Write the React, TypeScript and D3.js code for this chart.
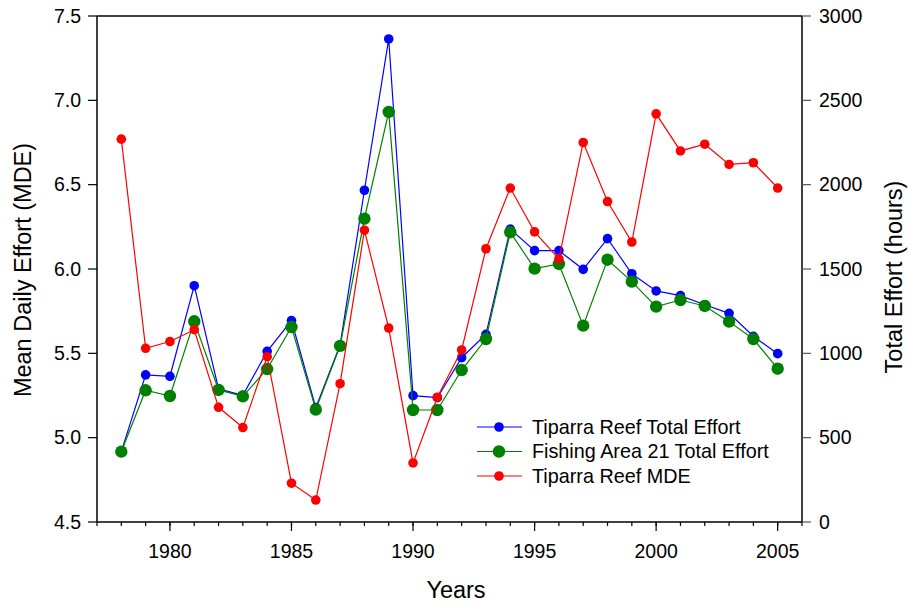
import React from 'react';
import * as d3 from 'd3';

const years = [1978, 1979, 1980, 1981, 1982, 1983, 1984, 1985, 1986, 1987, 1988, 1989, 1990, 1991, 1992, 1993, 1994, 1995, 1996, 1997, 1998, 1999, 2000, 2001, 2002, 2003, 2004, 2005];
const tiparraEffort = [417, 872, 864, 1401, 789, 751, 1012, 1194, 678, 1049, 1967, 2864, 749, 737, 974, 1113, 1737, 1609, 1609, 1498, 1680, 1472, 1370, 1342, 1288, 1237, 1101, 998];
const area21Effort = [417, 781, 747, 1190, 783, 745, 907, 1156, 666, 1044, 1798, 2431, 664, 664, 901, 1085, 1718, 1502, 1530, 1164, 1555, 1425, 1277, 1316, 1281, 1188, 1085, 909];
const tiparraMDE = [6.77, 5.53, 5.57, 5.64, 5.18, 5.06, 5.48, 4.73, 4.63, 5.32, 6.23, 5.65, 4.85, 5.24, 5.52, 6.12, 6.48, 6.22, 6.06, 6.75, 6.40, 6.16, 6.92, 6.70, 6.74, 6.62, 6.63, 6.48];
const leftTicks = [4.5, 5.0, 5.5, 6.0, 6.5, 7.0, 7.5];
const rightTicks = [0, 500, 1000, 1500, 2000, 2500, 3000];
const xMajorTicks = [1980, 1985, 1990, 1995, 2000, 2005];
const xMinorTicks = d3.range(1977, 2007);
const legendLabels = ['Tiparra Reef Total Effort', 'Fishing Area 21 Total Effort', 'Tiparra Reef MDE'];

const W = 909, H = 605;
const L = 97, R = 802, T = 16, B = 522;
const FONT = 'Arial, "Liberation Sans", sans-serif';

export default function App() {
  const x = d3.scaleLinear().domain([1977, 2006]).range([L, R]);
  const yL = d3.scaleLinear().domain([4.5, 7.5]).range([B, T]);
  const yR = d3.scaleLinear().domain([0, 3000]).range([B, T]);

  const series = [
    { vals: tiparraEffort, y: yR, color: '#0000ff', r: 4.8 },
    { vals: area21Effort, y: yR, color: '#008000', r: 6.2 },
    { vals: tiparraMDE, y: yL, color: '#ff0000', r: 4.8 },
  ];

  const lineGen = (ys: d3.ScaleLinear<number, number>, vals: number[]) =>
    d3.line<number>().x((_, i) => x(years[i])).y((v) => ys(v))(vals) || '';

  return (
    <svg width={W} height={H} style={{ position: 'absolute', left: 0, top: 0, background: '#fff' }} fontFamily={FONT}>
      <rect x={0} y={0} width={W} height={H} fill="#fff" />
      {series.map((s, si) => (
        <g key={si}>
          <path d={lineGen(s.y, s.vals)} fill="none" stroke={s.color} strokeWidth={1.2} />
          {s.vals.map((v, i) => (
            <circle key={i} cx={x(years[i])} cy={s.y(v)} r={s.r} fill={s.color} />
          ))}
        </g>
      ))}
      {/* frame */}
      <line x1={L} x2={R} y1={T} y2={T} stroke="#000" strokeWidth={1.5} />
      <line x1={L} x2={L} y1={T} y2={B} stroke="#000" strokeWidth={1.5} />
      <line x1={R} x2={R} y1={T} y2={B} stroke="#000" strokeWidth={1.5} />
      <line x1={L} x2={R} y1={B} y2={B} stroke="#000" strokeWidth={1.5} />
      {/* left axis */}
      {leftTicks.map((t) => (
        <g key={t}>
          <line x1={L - 9} x2={L} y1={yL(t)} y2={yL(t)} stroke="#000" strokeWidth={1.2} />
          <text x={L - 16} y={yL(t)} dy="0.35em" textAnchor="end" fontSize={19.5}>{t.toFixed(1)}</text>
        </g>
      ))}
      {/* right axis */}
      {rightTicks.map((t) => (
        <g key={t}>
          <line x1={R} x2={R + 9} y1={yR(t)} y2={yR(t)} stroke="#555" strokeWidth={1.2} />
          <text x={R + 17} y={yR(t)} dy="0.35em" textAnchor="start" fontSize={19.5}>{t}</text>
        </g>
      ))}
      {/* bottom axis */}
      {xMinorTicks.map((t) => (
        <line key={'m' + t} x1={x(t)} x2={x(t)} y1={B} y2={B + 4} stroke="#000" strokeWidth={1.2} />
      ))}
      {xMajorTicks.map((t) => (
        <g key={t}>
          <line x1={x(t)} x2={x(t)} y1={B} y2={B + 9} stroke="#000" strokeWidth={1.2} />
          <text x={x(t)} y={558} textAnchor="middle" fontSize={19.5}>{t}</text>
        </g>
      ))}
      {/* titles */}
      <text x={456} y={598} textAnchor="middle" fontSize={23.5}>Years</text>
      <text transform={`translate(31,270) rotate(-90)`} textAnchor="middle" fontSize={23.5}>Mean Daily Effort (MDE)</text>
      <text transform={`translate(902,277) rotate(-90)`} textAnchor="middle" fontSize={23.5}>Total Effort (hours)</text>
      {/* legend */}
      {legendLabels.map((lab, i) => {
        const ly = 427 + i * 24.5;
        const s = series[i];
        return (
          <g key={lab}>
            <line x1={477} x2={522} y1={ly} y2={ly} stroke={s.color} strokeWidth={1.2} />
            <circle cx={499} cy={ly} r={s.r} fill={s.color} />
            <text x={532} y={ly} dy="0.35em" fontSize={19.8}>{lab}</text>
          </g>
        );
      })}
    </svg>
  );
}
